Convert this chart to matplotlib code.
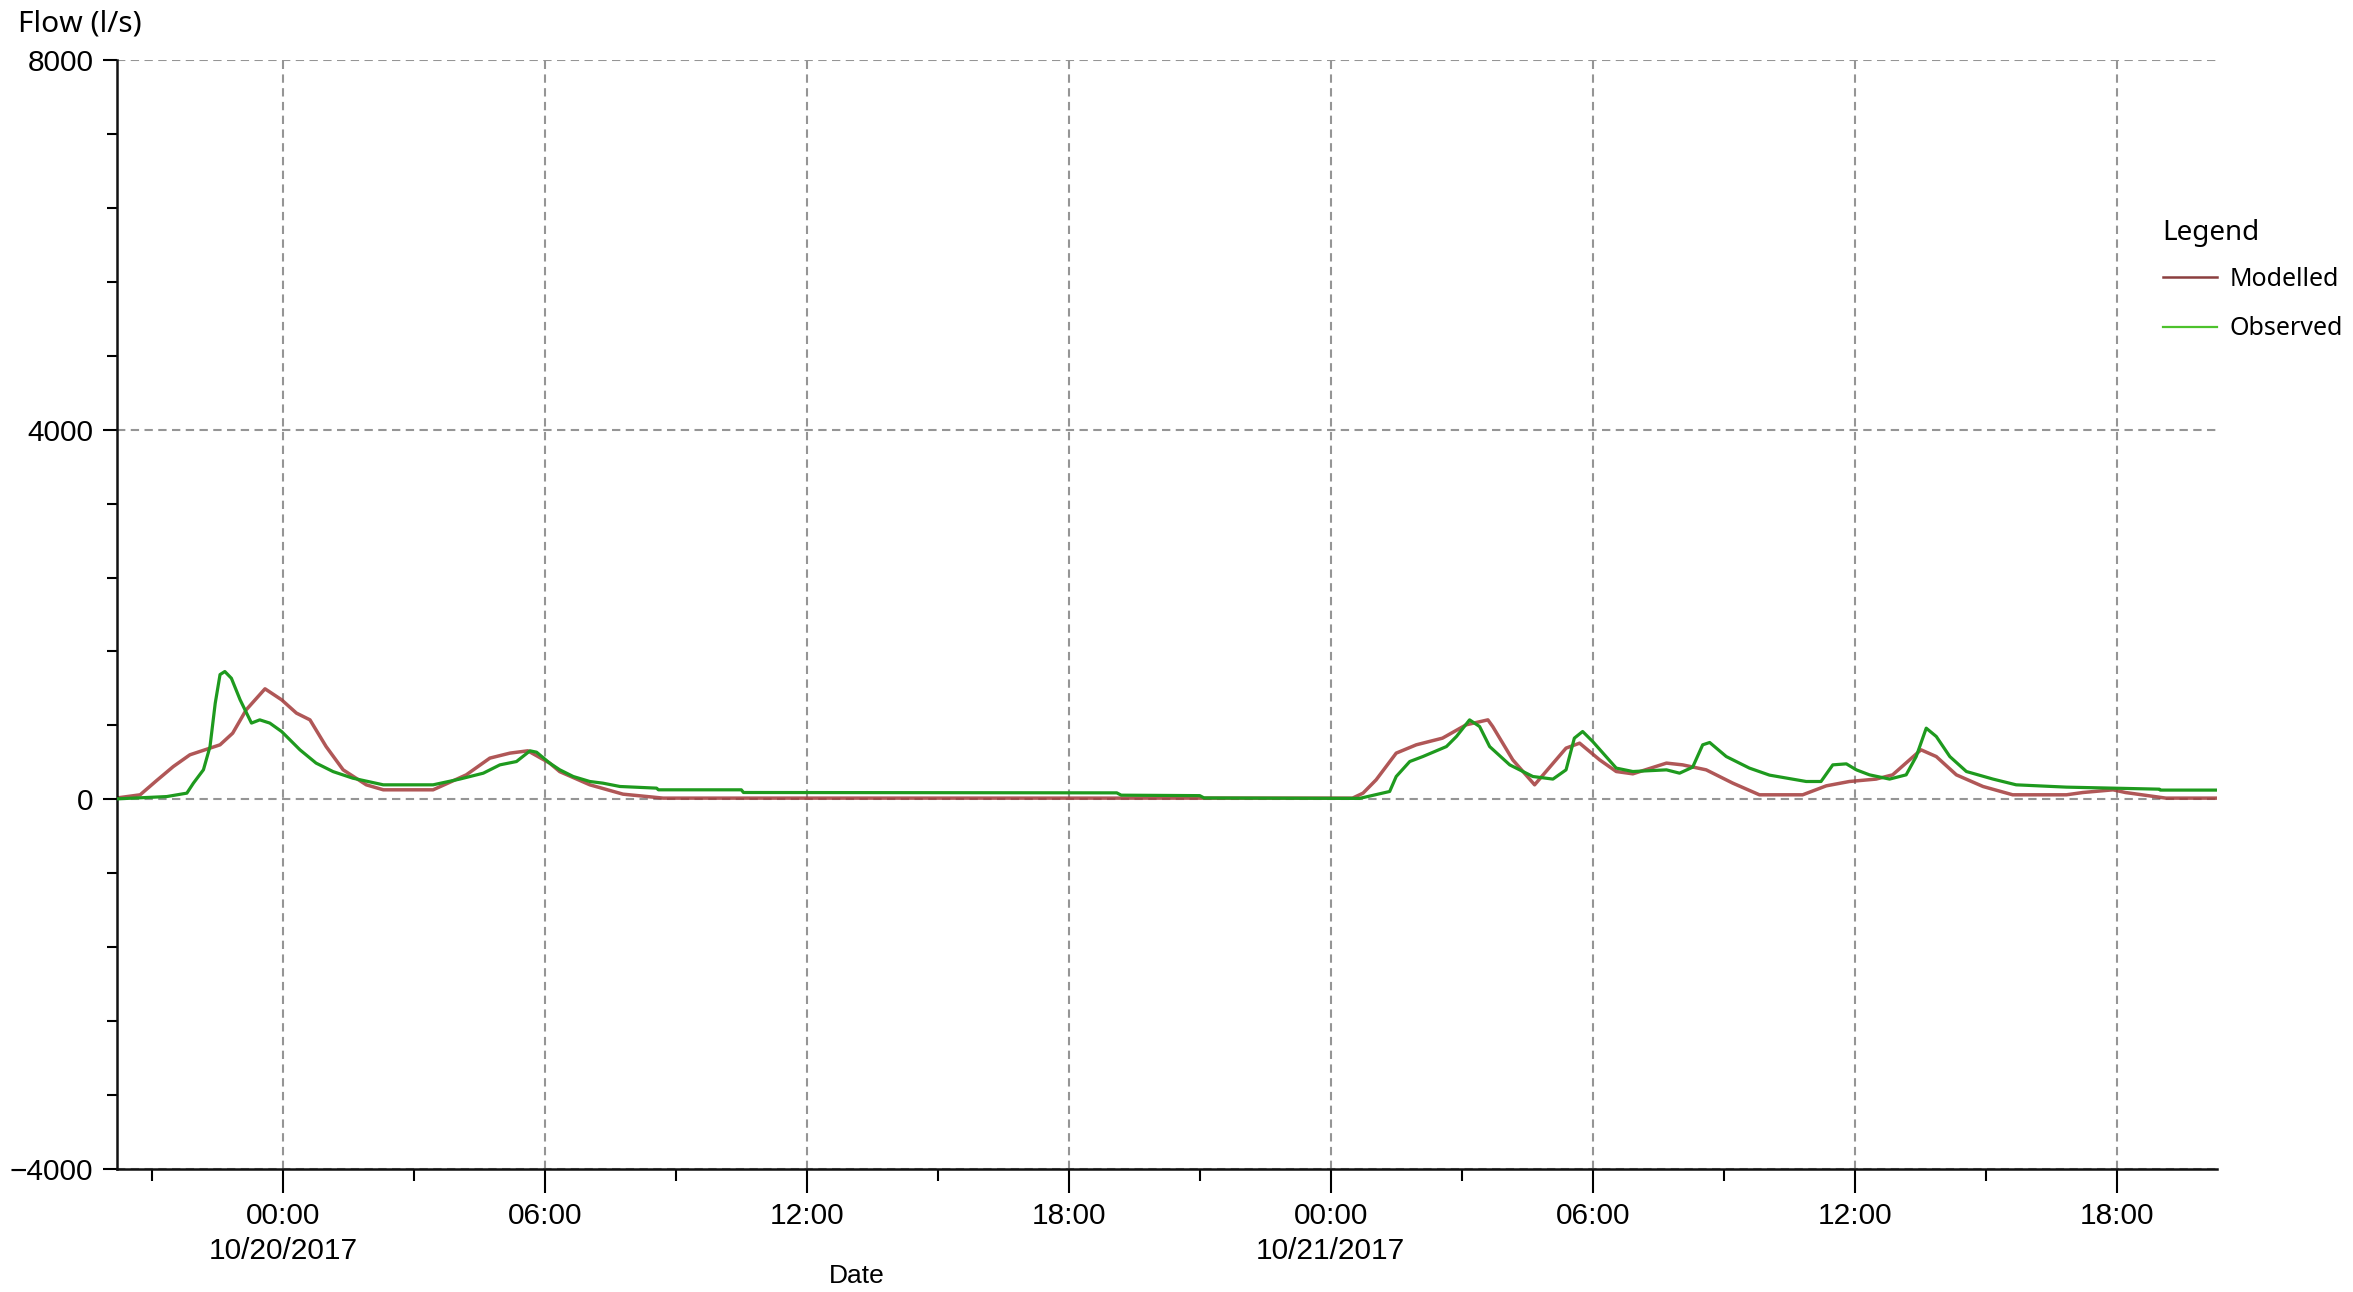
import matplotlib
matplotlib.use("Agg")
import matplotlib.pyplot as plt
import matplotlib.dates as mdates
from matplotlib.lines import Line2D
from matplotlib.ticker import MultipleLocator, FuncFormatter
import pandas as pd

# ---- data (hours relative to 2017-10-20 00:00, flow in l/s) ----
mod_hours = [-3.8, -3.27, -2.9, -2.51, -2.13, -1.67, -1.44, -1.15, -0.84, -0.41, -0.03, 0.31, 0.62,
             0.99, 1.38, 1.91, 2.3, 3.44, 4.2, 4.74, 5.2, 5.61, 6.11, 6.34, 7.03, 7.79, 8.71,
             24.5, 24.74, 25.04, 25.5, 25.96, 26.56, 27.1, 27.6, 27.71, 28.17, 28.67, 29.39,
             29.7, 30.16, 30.54, 30.92, 31.69, 32.06, 32.6, 33.21, 33.82, 34.81, 35.35, 35.88,
             36.49, 36.87, 37.52, 37.87, 38.33, 38.94, 39.62, 40.85, 41.23, 41.92, 42.2, 43.13, 44.3]
mod_flow = [15, 49, 200, 355, 482, 554, 590, 716, 969, 1196, 1077, 933, 860,
            571, 319, 157, 103, 103, 265, 446, 500, 525, 392, 300, 157, 56, 13,
            13, 67, 211, 500, 590, 662, 806, 860, 788, 427, 157, 554,
            608, 427, 301, 276, 392, 373, 319, 175, 49, 49, 146, 193,
            219, 265, 536, 463, 265, 139, 49, 49, 74, 103, 74, 13, 13]

obs_hours = [-3.8, -2.66, -2.2, -2.05, -1.82, -1.67, -1.55, -1.44, -1.33, -1.18, -0.98, -0.72, -0.53,
             -0.3, -0.03, 0.39, 0.76, 1.15, 1.6, 2.3, 3.44, 4.05, 4.59, 4.97, 5.35, 5.66, 5.81,
             6.11, 6.34, 6.65, 7.03, 7.33, 7.72, 8.56, 8.6, 10.5, 10.55, 19.1, 19.2, 21.0, 21.1,
             24.66, 25.35, 25.5, 25.81, 26.11, 26.65, 26.88, 27.18, 27.41, 27.64, 28.1, 28.63,
             29.09, 29.39, 29.58, 29.77, 30.0, 30.54, 30.92, 31.69, 31.99, 32.29, 32.52, 32.68,
             33.06, 33.59, 34.05, 34.89, 35.23, 35.5, 35.81, 36.04, 36.34, 36.8, 37.18, 37.41,
             37.64, 37.87, 38.18, 38.56, 39.17, 39.7, 40.85, 42.98, 43.0, 44.3]
obs_flow = [5, 30, 67, 175, 320, 570, 1040, 1350, 1383, 1310, 1077, 825, 860,
            825, 734, 536, 392, 300, 229, 157, 157, 219, 283, 373, 409, 525, 510,
            392, 320, 247, 193, 175, 139, 121, 103, 103, 74, 70, 45, 40, 15,
            10, 85, 247, 409, 463, 571, 680, 860, 788, 571, 373, 247,
            219, 319, 662, 734, 626, 338, 301, 319, 283, 348, 590, 615,
            463, 338, 262, 193, 193, 373, 384, 319, 265, 219, 265, 463,
            770, 680, 463, 301, 219, 157, 132, 110, 100, 100]

series_labels = ["Modelled", "Observed"]
y_ticks = [-4000, 0, 4000, 8000]
base = pd.Timestamp("2017-10-20 00:00")
x_start = pd.Timestamp("2017-10-19 20:12")
x_end = pd.Timestamp("2017-10-21 20:18")

mod_t = base + pd.to_timedelta(mod_hours, unit="h")
obs_t = base + pd.to_timedelta(obs_hours, unit="h")

W, H = 2353, 1292
fig = plt.figure(figsize=(W / 100, H / 100), dpi=100)
ax = fig.add_axes([117 / W, 1 - 1169 / H, (2217 - 117) / W, (1169 - 60) / H])

tick_font = ["Liberation Sans", "DejaVu Sans"]
ui_font = ["Noto Sans", "DejaVu Sans"]

grid_kw = dict(color="#959595", linewidth=1.5, linestyle=(0, (4.0, 2.6)))

ax.plot(obs_t, obs_flow, color="#1e9a1e", linewidth=2.3, zorder=3)
ax.plot(mod_t, mod_flow, color="#a23a3a", linewidth=2.5, zorder=2, alpha=0.85)

ax.set_xlim(x_start, x_end)
ax.set_ylim(-4000, 8000)
ax.set_yticks(y_ticks)
ax.yaxis.set_minor_locator(MultipleLocator(800))
ax.xaxis.set_major_locator(mdates.HourLocator(byhour=[0, 6, 12, 18]))
ax.xaxis.set_minor_locator(mdates.HourLocator(byhour=[3, 9, 15, 21]))


def fmt(x, pos=None):
    d = mdates.num2date(x)
    if d.hour == 0 and d.minute == 0:
        return d.strftime("%H:%M") + "\n" + d.strftime("%m/%d/%Y")
    return d.strftime("%H:%M")


ax.xaxis.set_major_formatter(FuncFormatter(fmt))
ax.grid(True, which="major", axis="both", **grid_kw)
ax.set_axisbelow(True)

for s in ["top", "right"]:
    ax.spines[s].set_visible(False)
for s in ["left", "bottom"]:
    ax.spines[s].set_linewidth(1.8)
    ax.spines[s].set_color("#111111")

ax.tick_params(axis="x", which="major", direction="out", length=17, width=1.5, pad=7)
ax.tick_params(axis="x", which="minor", direction="out", length=8.5, width=1.5)
ax.tick_params(axis="y", which="major", direction="out", length=10, width=1.5, pad=7)
ax.tick_params(axis="y", which="minor", direction="out", length=7, width=1.5)

fig.canvas.draw()
for lbl in ax.get_xticklabels():
    lbl.set_fontfamily(tick_font)
    lbl.set_fontsize(21.5)
    lbl.set_linespacing(1.3)
for lbl in ax.get_yticklabels():
    lbl.set_fontfamily(tick_font)
    lbl.set_fontsize(21.5)

fig.text(18 / W, 1 - 24 / H, "Flow (l/s)", family=ui_font, fontsize=21.5,
         ha="left", va="center")
fig.text(857 / W, 1 - 1276 / H, "Date", family=tick_font, fontsize=19,
         ha="center", va="center")

# legend title and entries
fig.text(2162 / W, 1 - 233 / H, "Legend", family=ui_font, fontsize=20,
         ha="left", va="center")
handles = [Line2D([], [], color="#8b3f3f", linewidth=1.8),
           Line2D([], [], color="#4cc22c", linewidth=1.6)]
leg = fig.legend(handles, series_labels, loc="center left",
                 bbox_to_anchor=(2163 / W, 1 - 304 / H), frameon=False,
                 prop={"family": ui_font, "size": 18},
                 handlelength=2.15, handletextpad=0.5, labelspacing=0.98,
                 borderaxespad=0, borderpad=0)

fig.savefig("out.png", dpi=100, facecolor="white")
